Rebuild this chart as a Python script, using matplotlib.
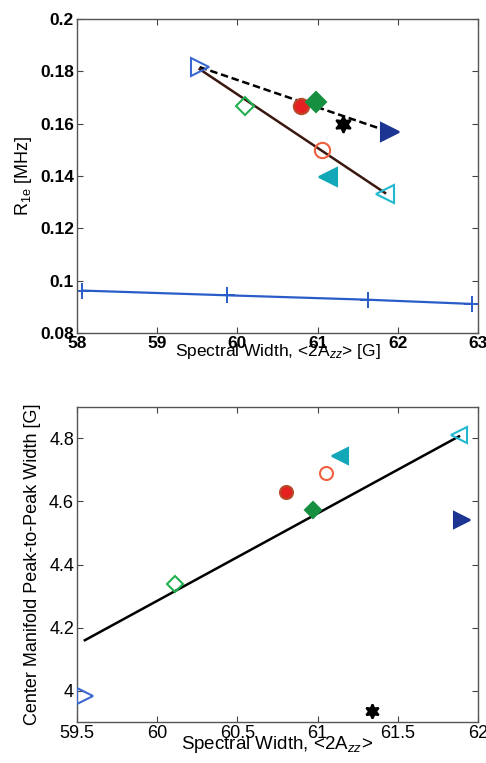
import matplotlib
matplotlib.use("Agg")
import matplotlib.pyplot as plt
from matplotlib.ticker import FixedLocator, FixedFormatter

plt.rcParams['font.family'] = ['Liberation Sans', 'DejaVu Sans']
plt.rcParams['mathtext.fontset'] = 'custom'
plt.rcParams['mathtext.rm'] = 'Liberation Sans'
plt.rcParams['mathtext.it'] = 'Liberation Sans:italic'

# ---- data: top panel (R1e vs spectral width) ----
names = ["open_tri_right", "open_diamond", "red_circle", "green_diamond", "star",
         "navy_tri_right", "open_circle", "cyan_tri_left", "open_tri_left"]
top_x = [59.53, 60.10, 60.79, 60.98, 61.32, 61.90, 61.05, 61.13, 61.84]
top_y = [0.1816, 0.1668, 0.1668, 0.1683, 0.1598, 0.1568, 0.1500, 0.1396, 0.1332]

dash_x = [59.53, 61.90]
dash_y = [0.1816, 0.1568]
solid_x = [59.53, 61.84]
solid_y = [0.1808, 0.1335]

blue_x = [58.07, 59.87, 61.63, 62.92]
blue_y = [0.0962, 0.0944, 0.0927, 0.0911]

# ---- data: bottom panel (center manifold width) ----
bot_x = [59.55, 60.11, 60.80, 60.97, 61.34, 61.90, 61.05, 61.14, 61.88]
bot_y = [3.983, 4.337, 4.629, 4.574, 3.936, 4.542, 4.689, 4.743, 4.811]

fit_x = [59.55, 61.88]
fit_y = [4.160, 4.806]

top_xticks = [58, 59, 60, 61, 62, 63]
top_yticks = [0.08, 0.10, 0.12, 0.14, 0.16, 0.18, 0.20]
top_yticklabels = ["0.08", "0.1", "0.12", "0.14", "0.16", "0.18", "0.2"]
bot_xticks = [59.5, 60, 60.5, 61, 61.5, 62]
bot_xticklabels = ["59.5", "60", "60.5", "61", "61.5", "62"]
bot_yticks = [4.0, 4.2, 4.4, 4.6, 4.8]
bot_yticklabels = ["4", "4.2", "4.4", "4.6", "4.8"]

# marker styles (marker, facecolor, edgecolor, size)
hexstar = (6, 1, 0)
styles = [
    ('>', 'none', '#3a68d0', 13),
    ('D', 'none', '#22b050', 9),
    ('o', '#e52020', '#b84a2a', 11),
    ('D', '#169040', '#169040', 10),
    (hexstar, 'black', 'black', 12),
    ('>', '#1c3592', '#1c3592', 13),
    ('o', 'none', '#f06040', 11),
    ('<', '#12a8b8', '#12a8b8', 13),
    ('<', 'none', '#22b8d0', 13),
]

fig = plt.figure(figsize=(4.86, 7.63), dpi=100)
ax1 = fig.add_axes([0.158, 0.5636, 0.826, 0.4116])
ax2 = fig.add_axes([0.158, 0.0533, 0.826, 0.4137])

for ax in (ax1, ax2):
    ax.tick_params(direction='in', top=True, right=True, length=4, width=0.8,
                   color='#444444', labelsize=12.5, pad=2)
    for s in ax.spines.values():
        s.set_color('#555555')
        s.set_linewidth(1.0)

# top panel
ax1.plot(dash_x, dash_y, '--', color='black', lw=1.8, dashes=(3, 1.5), zorder=2)
ax1.plot(solid_x, solid_y, '-', color='#3a1810', lw=1.8, zorder=2)
ax1.plot(blue_x, blue_y, '-', color='#2a5cc8', lw=1.6, marker='+', ms=12, mew=1.4, zorder=2)
for (m, fc, ec, ms), x, y in zip(styles, top_x, top_y):
    ax1.plot([x], [y], linestyle='none', marker=m, ms=ms, mfc=fc, mec=ec, mew=1.5, zorder=3)

ax1.set_xlim(58, 63)
ax1.set_ylim(0.08, 0.2)
ax1.xaxis.set_major_locator(FixedLocator(top_xticks))
ax1.yaxis.set_major_locator(FixedLocator(top_yticks))
ax1.yaxis.set_major_formatter(FixedFormatter(top_yticklabels))
for lab in ax1.get_xticklabels() + ax1.get_yticklabels():
    lab.set_fontweight('bold')
ax1.set_xlabel(r"Spectral Width, <2A$_{zz}$> [G]", fontsize=12.5, labelpad=-6)
ax1.set_ylabel(r"R$_{\mathrm{1e}}$ [MHz]", fontsize=13, labelpad=4)

# bottom panel
ax2.plot(fit_x, fit_y, '-', color='black', lw=1.8, zorder=2)
for (m, fc, ec, ms), x, y in zip(styles, bot_x, bot_y):
    ax2.plot([x], [y], linestyle='none', marker=m, ms=ms * 0.85, mfc=fc, mec=ec, mew=1.5, zorder=3)

ax2.set_xlim(59.5, 62)
ax2.set_ylim(3.9, 4.9)
ax2.xaxis.set_major_locator(FixedLocator(bot_xticks))
ax2.xaxis.set_major_formatter(FixedFormatter(bot_xticklabels))
ax2.yaxis.set_major_locator(FixedLocator(bot_yticks))
ax2.yaxis.set_major_formatter(FixedFormatter(bot_yticklabels))
ax2.tick_params(labelsize=13)
ax2.set_xlabel(r"Spectral Width, <2A$_{zz}$>", fontsize=13.5, labelpad=-6)
ax2.set_ylabel("Center Manifold Peak-to-Peak Width [G]", fontsize=13, labelpad=6)

fig.savefig("out.png", dpi=100)
